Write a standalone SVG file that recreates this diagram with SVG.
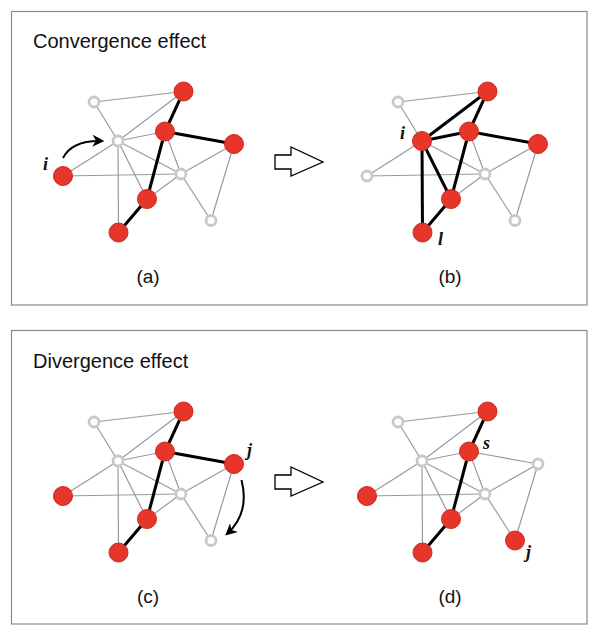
<svg xmlns="http://www.w3.org/2000/svg" width="600" height="637" viewBox="0 0 600 637">
<style>
.frame{fill:#fff;stroke:#8a8a8a;stroke-width:1.2}
.title{font-family:"Liberation Sans",Arial,sans-serif;font-size:20px;fill:#111}
.cap{font-family:"Liberation Sans",Arial,sans-serif;font-size:19px;fill:#111;text-anchor:middle}
.lbl{font-family:"Liberation Serif","Times New Roman",serif;font-style:italic;font-weight:bold;font-size:18px;fill:#111}
.e{stroke:#9a9a9a;stroke-width:1.2;fill:none}
.b{stroke:#000;stroke-width:3;fill:none}
.r{fill:#e8352a;stroke:#cc2a20;stroke-width:1}
.g{fill:#fff;stroke:#c9c9c9;stroke-width:2.8}
.big{fill:#fff;stroke:#000;stroke-width:1.3}
.cur{stroke:#000;stroke-width:2;fill:none}
</style>
<defs>
<marker id="ah" viewBox="0 0 10 10" refX="8" refY="5" markerWidth="6" markerHeight="6" orient="auto" markerUnits="strokeWidth">
<path d="M0,0 L10,5 L0,10 L3,5 Z" fill="#000"/>
</marker>
</defs>
<rect class="frame" x="11.5" y="11.5" width="575.5" height="293.5"/>
<rect class="frame" x="11.5" y="330.5" width="575.5" height="293.5"/>
<text class="title" x="33" y="48">Convergence effect</text>
<text class="title" x="33" y="368">Divergence effect</text>

<!-- Panel a -->
<g id="connectors-a">
<line class="e" x1="94" y1="102" x2="183.5" y2="91.5"/>
<line class="e" x1="94" y1="102" x2="118" y2="141"/>
<line class="e" x1="118" y1="141" x2="183.5" y2="91.5"/>
<line class="e" x1="118" y1="141" x2="165" y2="131.5"/>
<line class="e" x1="118" y1="141" x2="63" y2="176"/>
<line class="e" x1="118" y1="141" x2="181" y2="174"/>
<line class="e" x1="118" y1="141" x2="147" y2="199"/>
<line class="e" x1="118" y1="141" x2="118.5" y2="232.5"/>
<line class="e" x1="63" y1="176" x2="181" y2="174"/>
<line class="e" x1="165" y1="131.5" x2="181" y2="174"/>
<line class="e" x1="234" y1="144" x2="181" y2="174"/>
<line class="e" x1="234" y1="144" x2="211" y2="220.5"/>
<line class="e" x1="181" y1="174" x2="211" y2="220.5"/>
<line class="e" x1="181" y1="174" x2="147" y2="199"/>
<line class="b" x1="183.5" y1="91.5" x2="165" y2="131.5"/>
<line class="b" x1="165" y1="131.5" x2="234" y2="144"/>
<line class="b" x1="165" y1="131.5" x2="147" y2="199"/>
<line class="b" x1="147" y1="199" x2="118.5" y2="232.5"/>
<path class="cur" d="M63,158 Q72,140 102,141" marker-end="url(#ah)"/>
</g>
<g id="a-nodes">
<g id="a-A"><circle class="g" cx="94" cy="102" r="5"/></g>
<g id="a-B"><circle class="r" cx="183.5" cy="91.5" r="9.5"/></g>
<g id="a-C"><circle class="g" cx="118" cy="141" r="5"/></g>
<g id="a-D"><circle class="r" cx="165" cy="131.5" r="9.5"/></g>
<g id="a-E"><circle class="r" cx="234" cy="144" r="9.5"/></g>
<g id="a-F"><circle class="g" cx="181" cy="174" r="5"/></g>
<g id="a-G"><circle class="r" cx="63" cy="176" r="9.5"/><text class="lbl" x="43" y="170">i</text></g>
<g id="a-H"><circle class="r" cx="147" cy="199" r="9.5"/></g>
<g id="a-I"><circle class="g" cx="211" cy="220.5" r="5"/></g>
<g id="a-J"><circle class="r" cx="118.5" cy="232.5" r="9.5"/></g>
</g>
<text class="cap" x="148" y="283">(a)</text>

<g id="arrow-top"><polygon class="big" points="275,155 291,155 291,147 323,162 291,176 291,169 275,169"/></g>

<!-- Panel b -->
<g transform="translate(304,0)">
<g id="connectors-b">
<line class="e" x1="94" y1="102" x2="183.5" y2="91.5"/>
<line class="e" x1="94" y1="102" x2="118" y2="141"/>
<line class="e" x1="118" y1="141" x2="63" y2="176"/>
<line class="e" x1="118" y1="141" x2="181" y2="174"/>
<line class="e" x1="63" y1="176" x2="181" y2="174"/>
<line class="e" x1="165" y1="131.5" x2="181" y2="174"/>
<line class="e" x1="234" y1="144" x2="181" y2="174"/>
<line class="e" x1="234" y1="144" x2="211" y2="220.5"/>
<line class="e" x1="181" y1="174" x2="211" y2="220.5"/>
<line class="e" x1="181" y1="174" x2="147" y2="199"/>
<line class="b" x1="118" y1="141" x2="183.5" y2="91.5"/>
<line class="b" x1="118" y1="141" x2="165" y2="131.5"/>
<line class="b" x1="118" y1="141" x2="147" y2="199"/>
<line class="b" x1="118" y1="141" x2="118.5" y2="232.5"/>
<line class="b" x1="183.5" y1="91.5" x2="165" y2="131.5"/>
<line class="b" x1="165" y1="131.5" x2="234" y2="144"/>
<line class="b" x1="165" y1="131.5" x2="147" y2="199"/>
<line class="b" x1="147" y1="199" x2="118.5" y2="232.5"/>
</g>
<g id="b-nodes">
<g id="b-A"><circle class="g" cx="94" cy="102" r="5"/></g>
<g id="b-B"><circle class="r" cx="183.5" cy="91.5" r="9.5"/></g>
<g id="b-C"><circle class="r" cx="118" cy="141" r="9.5"/><text class="lbl" x="96" y="139">i</text></g>
<g id="b-D"><circle class="r" cx="165" cy="131.5" r="9.5"/></g>
<g id="b-E"><circle class="r" cx="234" cy="144" r="9.5"/></g>
<g id="b-F"><circle class="g" cx="181" cy="174" r="5"/></g>
<g id="b-G"><circle class="g" cx="63" cy="176" r="5"/></g>
<g id="b-H"><circle class="r" cx="147" cy="199" r="9.5"/></g>
<g id="b-I"><circle class="g" cx="211" cy="220.5" r="5"/></g>
<g id="b-J"><circle class="r" cx="118.5" cy="232.5" r="9.5"/><text class="lbl" x="134" y="245">l</text></g>
</g>
<text class="cap" x="146" y="283">(b)</text>
</g>

<!-- Panel c -->
<g transform="translate(0,320)">
<g id="connectors-c">
<line class="e" x1="94" y1="102" x2="183.5" y2="91.5"/>
<line class="e" x1="94" y1="102" x2="118" y2="141"/>
<line class="e" x1="118" y1="141" x2="183.5" y2="91.5"/>
<line class="e" x1="118" y1="141" x2="165" y2="131.5"/>
<line class="e" x1="118" y1="141" x2="63" y2="176"/>
<line class="e" x1="118" y1="141" x2="181" y2="174"/>
<line class="e" x1="118" y1="141" x2="147" y2="199"/>
<line class="e" x1="118" y1="141" x2="118.5" y2="232.5"/>
<line class="e" x1="63" y1="176" x2="181" y2="174"/>
<line class="e" x1="165" y1="131.5" x2="181" y2="174"/>
<line class="e" x1="234" y1="144" x2="181" y2="174"/>
<line class="e" x1="234" y1="144" x2="211" y2="220.5"/>
<line class="e" x1="181" y1="174" x2="211" y2="220.5"/>
<line class="e" x1="181" y1="174" x2="147" y2="199"/>
<line class="b" x1="183.5" y1="91.5" x2="165" y2="131.5"/>
<line class="b" x1="165" y1="131.5" x2="234" y2="144"/>
<line class="b" x1="165" y1="131.5" x2="147" y2="199"/>
<line class="b" x1="147" y1="199" x2="118.5" y2="232.5"/>
<path class="cur" d="M241.5,160 Q250,193 227,214" marker-end="url(#ah)"/>
</g>
<g id="c-nodes">
<g id="c-A"><circle class="g" cx="94" cy="102" r="5"/></g>
<g id="c-B"><circle class="r" cx="183.5" cy="91.5" r="9.5"/></g>
<g id="c-C"><circle class="g" cx="118" cy="141" r="5"/></g>
<g id="c-D"><circle class="r" cx="165" cy="131.5" r="9.5"/></g>
<g id="c-E"><circle class="r" cx="234" cy="144" r="9.5"/><text class="lbl" x="247" y="136">j</text></g>
<g id="c-F"><circle class="g" cx="181" cy="174" r="5"/></g>
<g id="c-G"><circle class="r" cx="63" cy="176" r="9.5"/></g>
<g id="c-H"><circle class="r" cx="147" cy="199" r="9.5"/></g>
<g id="c-I"><circle class="g" cx="211" cy="220.5" r="5"/></g>
<g id="c-J"><circle class="r" cx="118.5" cy="232.5" r="9.5"/></g>
</g>
<text class="cap" x="148" y="283">(c)</text>
</g>

<g id="arrow-bottom"><polygon class="big" points="275,475 291,475 291,467 323,482 291,496 291,489 275,489"/></g>

<!-- Panel d -->
<g transform="translate(304,320)">
<g id="connectors-d">
<line class="e" x1="94" y1="102" x2="183.5" y2="91.5"/>
<line class="e" x1="94" y1="102" x2="118" y2="141"/>
<line class="e" x1="118" y1="141" x2="183.5" y2="91.5"/>
<line class="e" x1="118" y1="141" x2="165" y2="131.5"/>
<line class="e" x1="118" y1="141" x2="63" y2="176"/>
<line class="e" x1="118" y1="141" x2="181" y2="174"/>
<line class="e" x1="118" y1="141" x2="147" y2="199"/>
<line class="e" x1="118" y1="141" x2="118.5" y2="232.5"/>
<line class="e" x1="63" y1="176" x2="181" y2="174"/>
<line class="e" x1="165" y1="131.5" x2="181" y2="174"/>
<line class="e" x1="165" y1="131.5" x2="234" y2="144"/>
<line class="e" x1="234" y1="144" x2="181" y2="174"/>
<line class="e" x1="234" y1="144" x2="211" y2="220.5"/>
<line class="e" x1="181" y1="174" x2="211" y2="220.5"/>
<line class="e" x1="181" y1="174" x2="147" y2="199"/>
<line class="b" x1="183.5" y1="91.5" x2="165" y2="131.5"/>
<line class="b" x1="165" y1="131.5" x2="147" y2="199"/>
<line class="b" x1="147" y1="199" x2="118.5" y2="232.5"/>
</g>
<g id="d-nodes">
<g id="d-A"><circle class="g" cx="94" cy="102" r="5"/></g>
<g id="d-B"><circle class="r" cx="183.5" cy="91.5" r="9.5"/></g>
<g id="d-C"><circle class="g" cx="118" cy="141" r="5"/></g>
<g id="d-D"><circle class="r" cx="165" cy="131.5" r="9.5"/><text class="lbl" x="179" y="129">s</text></g>
<g id="d-E"><circle class="g" cx="234" cy="144" r="5"/></g>
<g id="d-F"><circle class="g" cx="181" cy="174" r="5"/></g>
<g id="d-G"><circle class="r" cx="63" cy="176" r="9.5"/></g>
<g id="d-H"><circle class="r" cx="147" cy="199" r="9.5"/></g>
<g id="d-I"><circle class="r" cx="211" cy="220.5" r="9.5"/><text class="lbl" x="222" y="238">j</text></g>
<g id="d-J"><circle class="r" cx="118.5" cy="232.5" r="9.5"/></g>
</g>
<text class="cap" x="146" y="283">(d)</text>
</g>
</svg>
